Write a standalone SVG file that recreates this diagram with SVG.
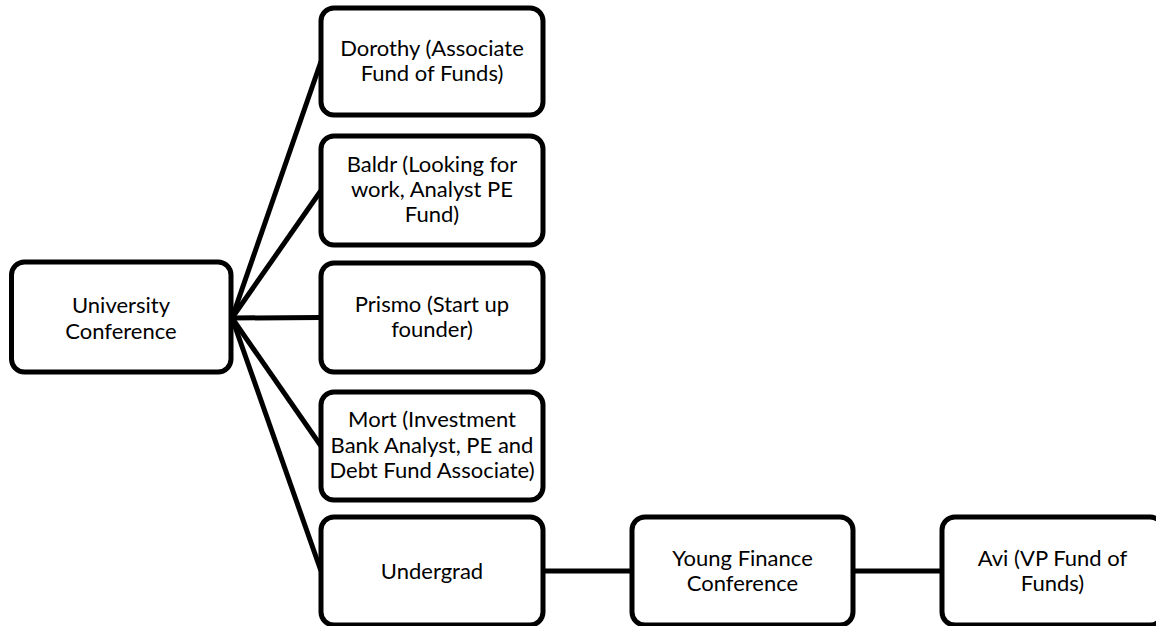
<svg xmlns="http://www.w3.org/2000/svg" width="1156" height="626" viewBox="0 0 1156 626">
  <style>
    .box { fill: #ffffff; stroke: #000000; stroke-width: 5; }
    .link { stroke: #000000; stroke-width: 5; fill: none; }
    .label { font-family: "Lato", "Liberation Sans", sans-serif; font-size: 22px; fill: #000000; text-anchor: middle; }
  </style>
  <rect width="1156" height="626" fill="#ffffff"/>

  <!-- connectors: fan from the conference node, then the chain along the bottom -->
  <g id="connectors">
    <line class="link" x1="232" y1="318" x2="321" y2="61.5"/>
    <line class="link" x1="232" y1="318" x2="321" y2="190.5"/>
    <line class="link" x1="232" y1="318" x2="321" y2="317.5"/>
    <line class="link" x1="232" y1="318" x2="321" y2="446"/>
    <line class="link" x1="232" y1="318" x2="321" y2="571"/>
    <line class="link" x1="543" y1="571" x2="632" y2="571"/>
    <line class="link" x1="853" y1="571" x2="942" y2="571"/>
  </g>

  <g id="university-conference">
    <rect class="box" x="11.5" y="262" width="219.5" height="110" rx="13"/>
    <text class="label" x="121" y="313">University</text>
    <text class="label" x="121" y="338.5">Conference</text>
  </g>

  <g id="dorothy">
    <rect class="box" x="321" y="8" width="222" height="107" rx="13"/>
    <text class="label" x="432" y="55.5">Dorothy (Associate</text>
    <text class="label" x="432" y="81">Fund of Funds)</text>
  </g>

  <g id="baldr">
    <rect class="box" x="321" y="136" width="222" height="109" rx="13"/>
    <text class="label" x="432" y="171.5">Baldr (Looking for</text>
    <text class="label" x="432" y="197">work, Analyst PE</text>
    <text class="label" x="432" y="222">Fund)</text>
  </g>

  <g id="prismo">
    <rect class="box" x="321" y="263" width="222" height="109" rx="13"/>
    <text class="label" x="432" y="312">Prismo (Start up</text>
    <text class="label" x="432" y="337">founder)</text>
  </g>

  <g id="mort">
    <rect class="box" x="321" y="392" width="222" height="108" rx="13"/>
    <text class="label" x="432" y="427">Mort (Investment</text>
    <text class="label" x="432" y="452.5">Bank Analyst, PE and</text>
    <text class="label" x="432" y="478">Debt Fund Associate)</text>
  </g>

  <g id="undergrad">
    <rect class="box" x="321" y="517" width="222" height="108" rx="13"/>
    <text class="label" x="432" y="578.5">Undergrad</text>
  </g>

  <g id="young-finance-conference">
    <rect class="box" x="632" y="517" width="221" height="108" rx="13"/>
    <text class="label" x="742.5" y="565.5">Young Finance</text>
    <text class="label" x="742.5" y="591">Conference</text>
  </g>

  <g id="avi">
    <rect class="box" x="942" y="517" width="221" height="108" rx="13"/>
    <text class="label" x="1052.5" y="565.5">Avi (VP Fund of</text>
    <text class="label" x="1052.5" y="591">Funds)</text>
  </g>
</svg>
